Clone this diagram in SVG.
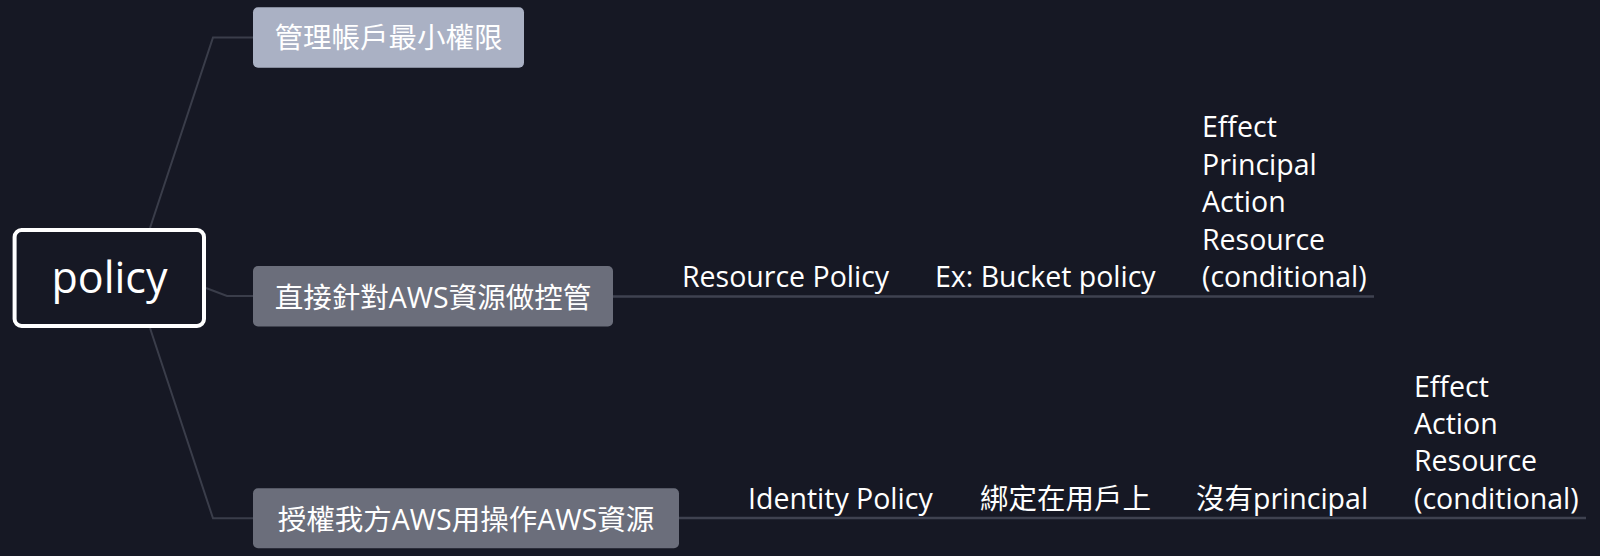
<svg xmlns="http://www.w3.org/2000/svg" width="1600" height="556" viewBox="0 0 1600 556">
<style>
  .bg { fill: #161824; }
  .t { font-family: "Open Sans", "Noto Sans", "Noto Sans CJK TC", sans-serif; font-size: 28.5px; fill: #ffffff; }
  .node-text { text-anchor: middle; }
  .root-text { font-size: 43px; text-anchor: middle; }
  .conn { fill: none; stroke: #3a3d4a; stroke-width: 2; }
  .uline { fill: none; stroke: #3f4250; stroke-width: 2.5; }
  .light { fill: #aab1c4; }
  .gray { fill: #6b6e7b; }
</style>
<rect class="bg" x="0" y="0" width="1600" height="556"/>
<g id="connectors">
  <path class="conn" d="M150,228 L213,37.5 L253,37.5"/>
  <path class="conn" d="M206,288 L227,296 L253,296"/>
  <path class="conn" d="M150,328 L213,518.3 L253,518.3"/>
  <path class="uline" d="M613,296.5 L1374,296.5"/>
  <path class="uline" d="M679,518 L1586,518"/>
</g>
<g id="root">
  <rect x="14.6" y="230" width="189.4" height="96" rx="7" fill="#161824" stroke="#ffffff" stroke-width="4"/>
  <text class="t root-text" x="109.5" y="293">policy</text>
</g>
<g id="node-admin">
  <rect class="light" x="253" y="7.3" width="271" height="60.4" rx="5"/>
  <text class="t node-text" x="388.5" y="48">管理帳戶最小權限</text>
</g>
<g id="node-resource">
  <rect class="gray" x="253" y="266" width="360" height="60.5" rx="5"/>
  <text class="t node-text" x="433" y="307.5">直接針對AWS資源做控管</text>
</g>
<g id="node-identity">
  <rect class="gray" x="253" y="488.3" width="426" height="60" rx="5"/>
  <text class="t node-text" x="466" y="529.5">授權我方AWS用操作AWS資源</text>
</g>
<g id="resource-policy">
  <text class="t" x="682" y="287">Resource Policy</text>
</g>
<g id="bucket-policy">
  <text class="t" x="935" y="287">Ex: Bucket policy</text>
</g>
<g id="resource-elements">
  <text class="t" x="1202" y="137">Effect</text>
  <text class="t" x="1202" y="174.5">Principal</text>
  <text class="t" x="1202" y="212">Action</text>
  <text class="t" x="1202" y="249.5">Resource</text>
  <text class="t" x="1202" y="287">(conditional)</text>
</g>
<g id="identity-policy">
  <text class="t" x="748" y="508.5">Identity Policy</text>
</g>
<g id="bind-user">
  <text class="t" x="980" y="508.5">綁定在用戶上</text>
</g>
<g id="no-principal">
  <text class="t" x="1196" y="508.5">沒有principal</text>
</g>
<g id="identity-elements">
  <text class="t" x="1414" y="396.5">Effect</text>
  <text class="t" x="1414" y="434">Action</text>
  <text class="t" x="1414" y="471">Resource</text>
  <text class="t" x="1414" y="508.5">(conditional)</text>
</g>
</svg>
